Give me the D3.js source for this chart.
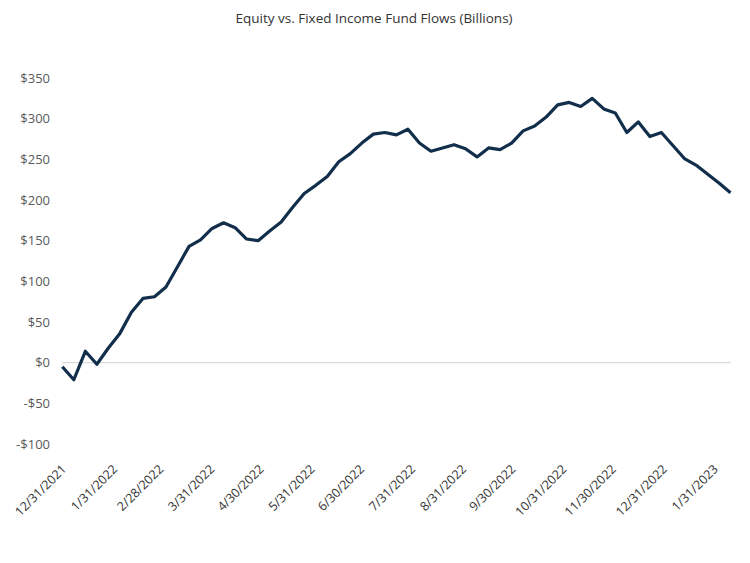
<!DOCTYPE html>
<html lang="en">
<head>
<meta charset="UTF-8">
<title>Equity vs. Fixed Income Fund Flows</title>
<script src="https://cdn.jsdelivr.net/npm/d3@7"></script>
<style>
  body { margin: 0; background: #fff; }
</style>
</head>
<body>
<div id="box"></div>
<script>
// weekly flows, first week ending 12/29/2021
const startDate = "12/29/2021";
const flows = [-5, -21, 14, -2, 18, 36, 62, 79, 81, 93,
  118, 143, 151, 165, 172, 166, 152, 150, 162, 173,
  191, 208, 218, 229, 247, 257, 270, 281, 283, 280,
  287, 270, 260, 264, 268, 263, 253, 264, 262, 270,
  285, 291, 302, 317, 320, 315, 325, 312, 307, 283,
  296, 278, 283, 267, 251, 243, 232, 221, 209];
const tickLabels = ["12/31/2021", "1/31/2022", "2/28/2022", "3/31/2022", "4/30/2022",
  "5/31/2022", "6/30/2022", "7/31/2022", "8/31/2022", "9/30/2022",
  "10/31/2022", "11/30/2022", "12/31/2022", "1/31/2023"];
const yTicks = [-100, -50, 0, 50, 100, 150, 200, 250, 300, 350];

const parse = d3.timeParse("%m/%d/%Y");
const t0 = parse(startDate);
const data = flows.map((v, i) => ({date: d3.timeDay.offset(t0, i * 7), value: v}));

const width = 750, height = 563;
const svg = d3.select("#box").append("svg")
  .attr("width", width).attr("height", height);

const x = d3.scaleTime()
  .domain(d3.extent(data, d => d.date))
  .range([62.3, 730.5]);
const y = d3.scaleLinear()
  .domain([-100, 350])
  .range([444, 78]);

// title
svg.append("text")
  .attr("x", 374).attr("y", 23)
  .attr("text-anchor", "middle")
  .attr("font-family", "Open Sans")
  .attr("font-size", "13.5px")
  .attr("fill", "#333")
  .text("Equity vs. Fixed Income Fund Flows (Billions)");

// y axis (no line, no ticks)
const yAxis = d3.axisLeft(y).tickValues(yTicks).tickSize(0).tickPadding(0)
  .tickFormat(d => (d < 0 ? "-$" : "$") + Math.abs(d));
svg.append("g")
  .attr("transform", "translate(50,0)")
  .call(yAxis)
  .call(g => g.select(".domain").remove())
  .call(g => g.selectAll("text")
    .attr("font-family", "Open Sans")
    .attr("font-size", "13px")
    .attr("fill", "#595959"));

// zero line
svg.append("line")
  .attr("x1", 62).attr("x2", 731)
  .attr("y1", y(0)).attr("y2", y(0))
  .attr("stroke", "#d9d9d9").attr("stroke-width", 1.3);

// x axis, rotated labels
const xAxis = d3.axisBottom(x).tickValues(tickLabels.map(parse)).tickSize(0)
  .tickFormat(d3.timeFormat("%-m/%-d/%Y"));
svg.append("g")
  .attr("transform", "translate(0,444)")
  .call(xAxis)
  .call(g => g.select(".domain").remove())
  .call(g => g.selectAll("text")
    .attr("font-family", "Open Sans")
    .attr("font-size", "12.5px")
    .attr("fill", "#333")
    .attr("text-anchor", "end")
    .attr("dy", 0)
    .attr("y", 0)
    .attr("transform", "translate(1,26) rotate(-45)"));

// line
const line = d3.line().x(d => x(d.date)).y(d => y(d.value));
svg.append("path")
  .datum(data)
  .attr("d", line)
  .attr("fill", "none")
  .attr("stroke", "#112e4b")
  .attr("stroke-width", 3.2)
  .attr("stroke-linejoin", "round");
</script>
</body>
</html>
